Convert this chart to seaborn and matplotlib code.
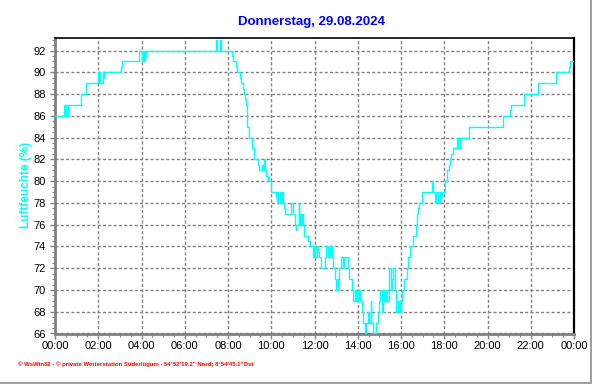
import matplotlib
matplotlib.use("Agg")
import matplotlib.pyplot as plt
import seaborn as sns
import pandas as pd
from matplotlib.ticker import MultipleLocator, FixedLocator
from matplotlib.lines import Line2D

sns.set_style("ticks")
plt.rcParams['font.family'] = ['Liberation Sans', 'DejaVu Sans']

# change points: minutes after midnight and relative humidity (%)
minutes = [0, 25, 27, 29, 31, 36, 71, 86, 119, 121, 122, 124, 133, 135, 137,
           184, 186, 232, 234, 242, 245, 246, 249, 252, 447, 449, 457, 460,
           492, 495, 502, 506, 513, 516, 522, 525, 527, 530, 532, 534, 539,
           547, 552, 564, 566, 575, 577, 581, 583, 586, 590, 600, 612, 614,
           616, 618, 620, 624, 626, 628, 630, 632, 636, 639, 656, 659, 666,
           668, 670, 676, 678, 680, 683, 686, 688, 690, 703, 707, 715, 719,
           722, 726, 729, 733, 738, 749, 753, 758, 762, 768, 772, 777, 780,
           786, 789, 794, 799, 802, 813, 815, 824, 828, 832, 836, 840, 845,
           851, 855, 860, 864, 868, 872, 876, 878, 883, 890, 895, 900, 903,
           906, 910, 914, 918, 922, 928, 931, 935, 938, 942, 946, 951, 956,
           960, 964, 968, 976, 980, 985, 994, 1002, 1005, 1008, 1011, 1018,
           1046, 1050, 1055, 1057, 1064, 1067, 1070, 1075, 1082, 1087, 1092,
           1096, 1100, 1103, 1116, 1119, 1124, 1149, 1242, 1263, 1266, 1300,
           1339, 1389, 1426, 1430, 1440]
humidity = [86, 87, 86, 87, 86, 87, 88, 89, 90, 89, 90, 89, 90, 89.5, 90,
            90.5, 91, 91.5, 92, 91, 92, 91, 91.5, 92, 93, 92, 93, 92,
            91.5, 91, 90.5, 90, 89.5, 89, 88.5, 88, 87.5, 87, 86, 85, 84,
            83, 82, 81.5, 81, 81.5, 81, 82, 81, 80.5, 80, 79, 78.5, 79,
            78, 79, 78, 79, 78.5, 78, 79, 78, 77.5, 77, 78, 77, 76,
            75.5, 76, 78, 76, 77, 76, 77, 76, 75, 74.5, 74, 73, 74,
            73, 74, 73.5, 73, 72, 73, 74, 73, 74, 73, 72, 71, 70,
            71, 72, 73, 72, 73, 72, 71, 70, 69, 70, 69, 70, 69,
            68, 67, 66, 67, 68, 67, 69, 67, 66, 67, 68, 69, 70,
            68, 70, 69, 70, 69, 72, 70, 71, 72, 70, 68, 69, 68,
            69, 70, 71, 72, 73, 74, 75, 76, 77, 77.5, 78, 79,
            80, 79, 78, 79, 78, 79, 78.5, 79, 80, 81, 81.5,
            82, 82.5, 83, 84, 83, 84, 85, 86, 86.5, 87, 88,
            89, 90, 90.5, 91, 91]

x_ticks = list(range(0, 1441, 120))
x_labels = ["00:00", "02:00", "04:00", "06:00", "08:00", "10:00", "12:00",
            "14:00", "16:00", "18:00", "20:00", "22:00", "00:00"]
y_ticks = list(range(66, 93, 2))
title = "Donnerstag, 29.08.2024"
ylabel = "Luftfeuchte (%)"
footer = "\u00a9 WsWin32 - \u00a9 private Wetterstation S\u00fcderl\u00fcgum - 54\u00b052'19.2\" Nord; 8\u00b054'45.1\"Ost"

W, H = 592, 384
fig = plt.figure(figsize=(W / 100, H / 100), dpi=100)
fig.patch.set_facecolor("white")
L, R, T, B = 55, 574, 38, 333.5
ax = fig.add_axes([L / W, 1 - B / H, (R - L) / W, (B - T) / H])

df = pd.DataFrame({"minute": minutes, "rh": humidity})
sns.lineplot(data=df, x="minute", y="rh", ax=ax, color="#00FFFF", lw=1.0,
             drawstyle="steps-post", estimator=None, zorder=3)

ax.set_xlim(0, 1440)
ax.set_ylim(66, 93.15)
ax.xaxis.set_major_locator(FixedLocator(x_ticks))
ax.set_xticklabels(x_labels)
ax.xaxis.set_minor_locator(MultipleLocator(30))
ax.yaxis.set_major_locator(FixedLocator(y_ticks))
ax.yaxis.set_minor_locator(MultipleLocator(0.5))
ax.set_xlabel("")
ax.set_ylabel("")

ax.grid(True, which="major", color="#808080", linestyle=(0, (2.2, 1.6)), lw=1.0, zorder=1)
ax.set_axisbelow(True)

for side in ["left", "bottom"]:
    ax.spines[side].set_color("#808080")
    ax.spines[side].set_linewidth(2.0)
ax.spines["top"].set_color("black")
ax.spines["top"].set_linewidth(1.2)
ax.spines["right"].set_color("black")
ax.spines["right"].set_linewidth(1.6)
ax.spines["top"].set_visible(True)
ax.spines["right"].set_visible(True)

ax.tick_params(axis="both", which="major", labelsize=8, colors="#808080",
               labelcolor="black", length=3.5, width=1.0, pad=2)
ax.tick_params(axis="both", which="minor", colors="#808080", length=2, width=0.8)
ax.tick_params(axis="y", which="major", pad=3)

fig.text(312 / W, 1 - 22 / H, title, color="#0000FF", fontsize=9.5,
         fontweight="bold", ha="center", va="center")
fig.text(26 / W, 1 - 185 / H, ylabel, color="#00FFFF", fontsize=8.5,
         fontweight="bold", rotation=90, ha="center", va="center")
fig.text(18 / W, 1 - 364 / H, footer, color="#FF0000", fontsize=4.3,
         fontweight="bold", ha="left", va="center")

fig.add_artist(Line2D([590.5 / W, 590.5 / W], [1 - 383 / H, 1.0],
                      transform=fig.transFigure, color="#A0A0A0", lw=1.5))
fig.add_artist(Line2D([0, 591 / W], [1 - 382.5 / H, 1 - 382.5 / H],
                      transform=fig.transFigure, color="#A0A0A0", lw=1.5))

fig.savefig("out.png", dpi=100)
